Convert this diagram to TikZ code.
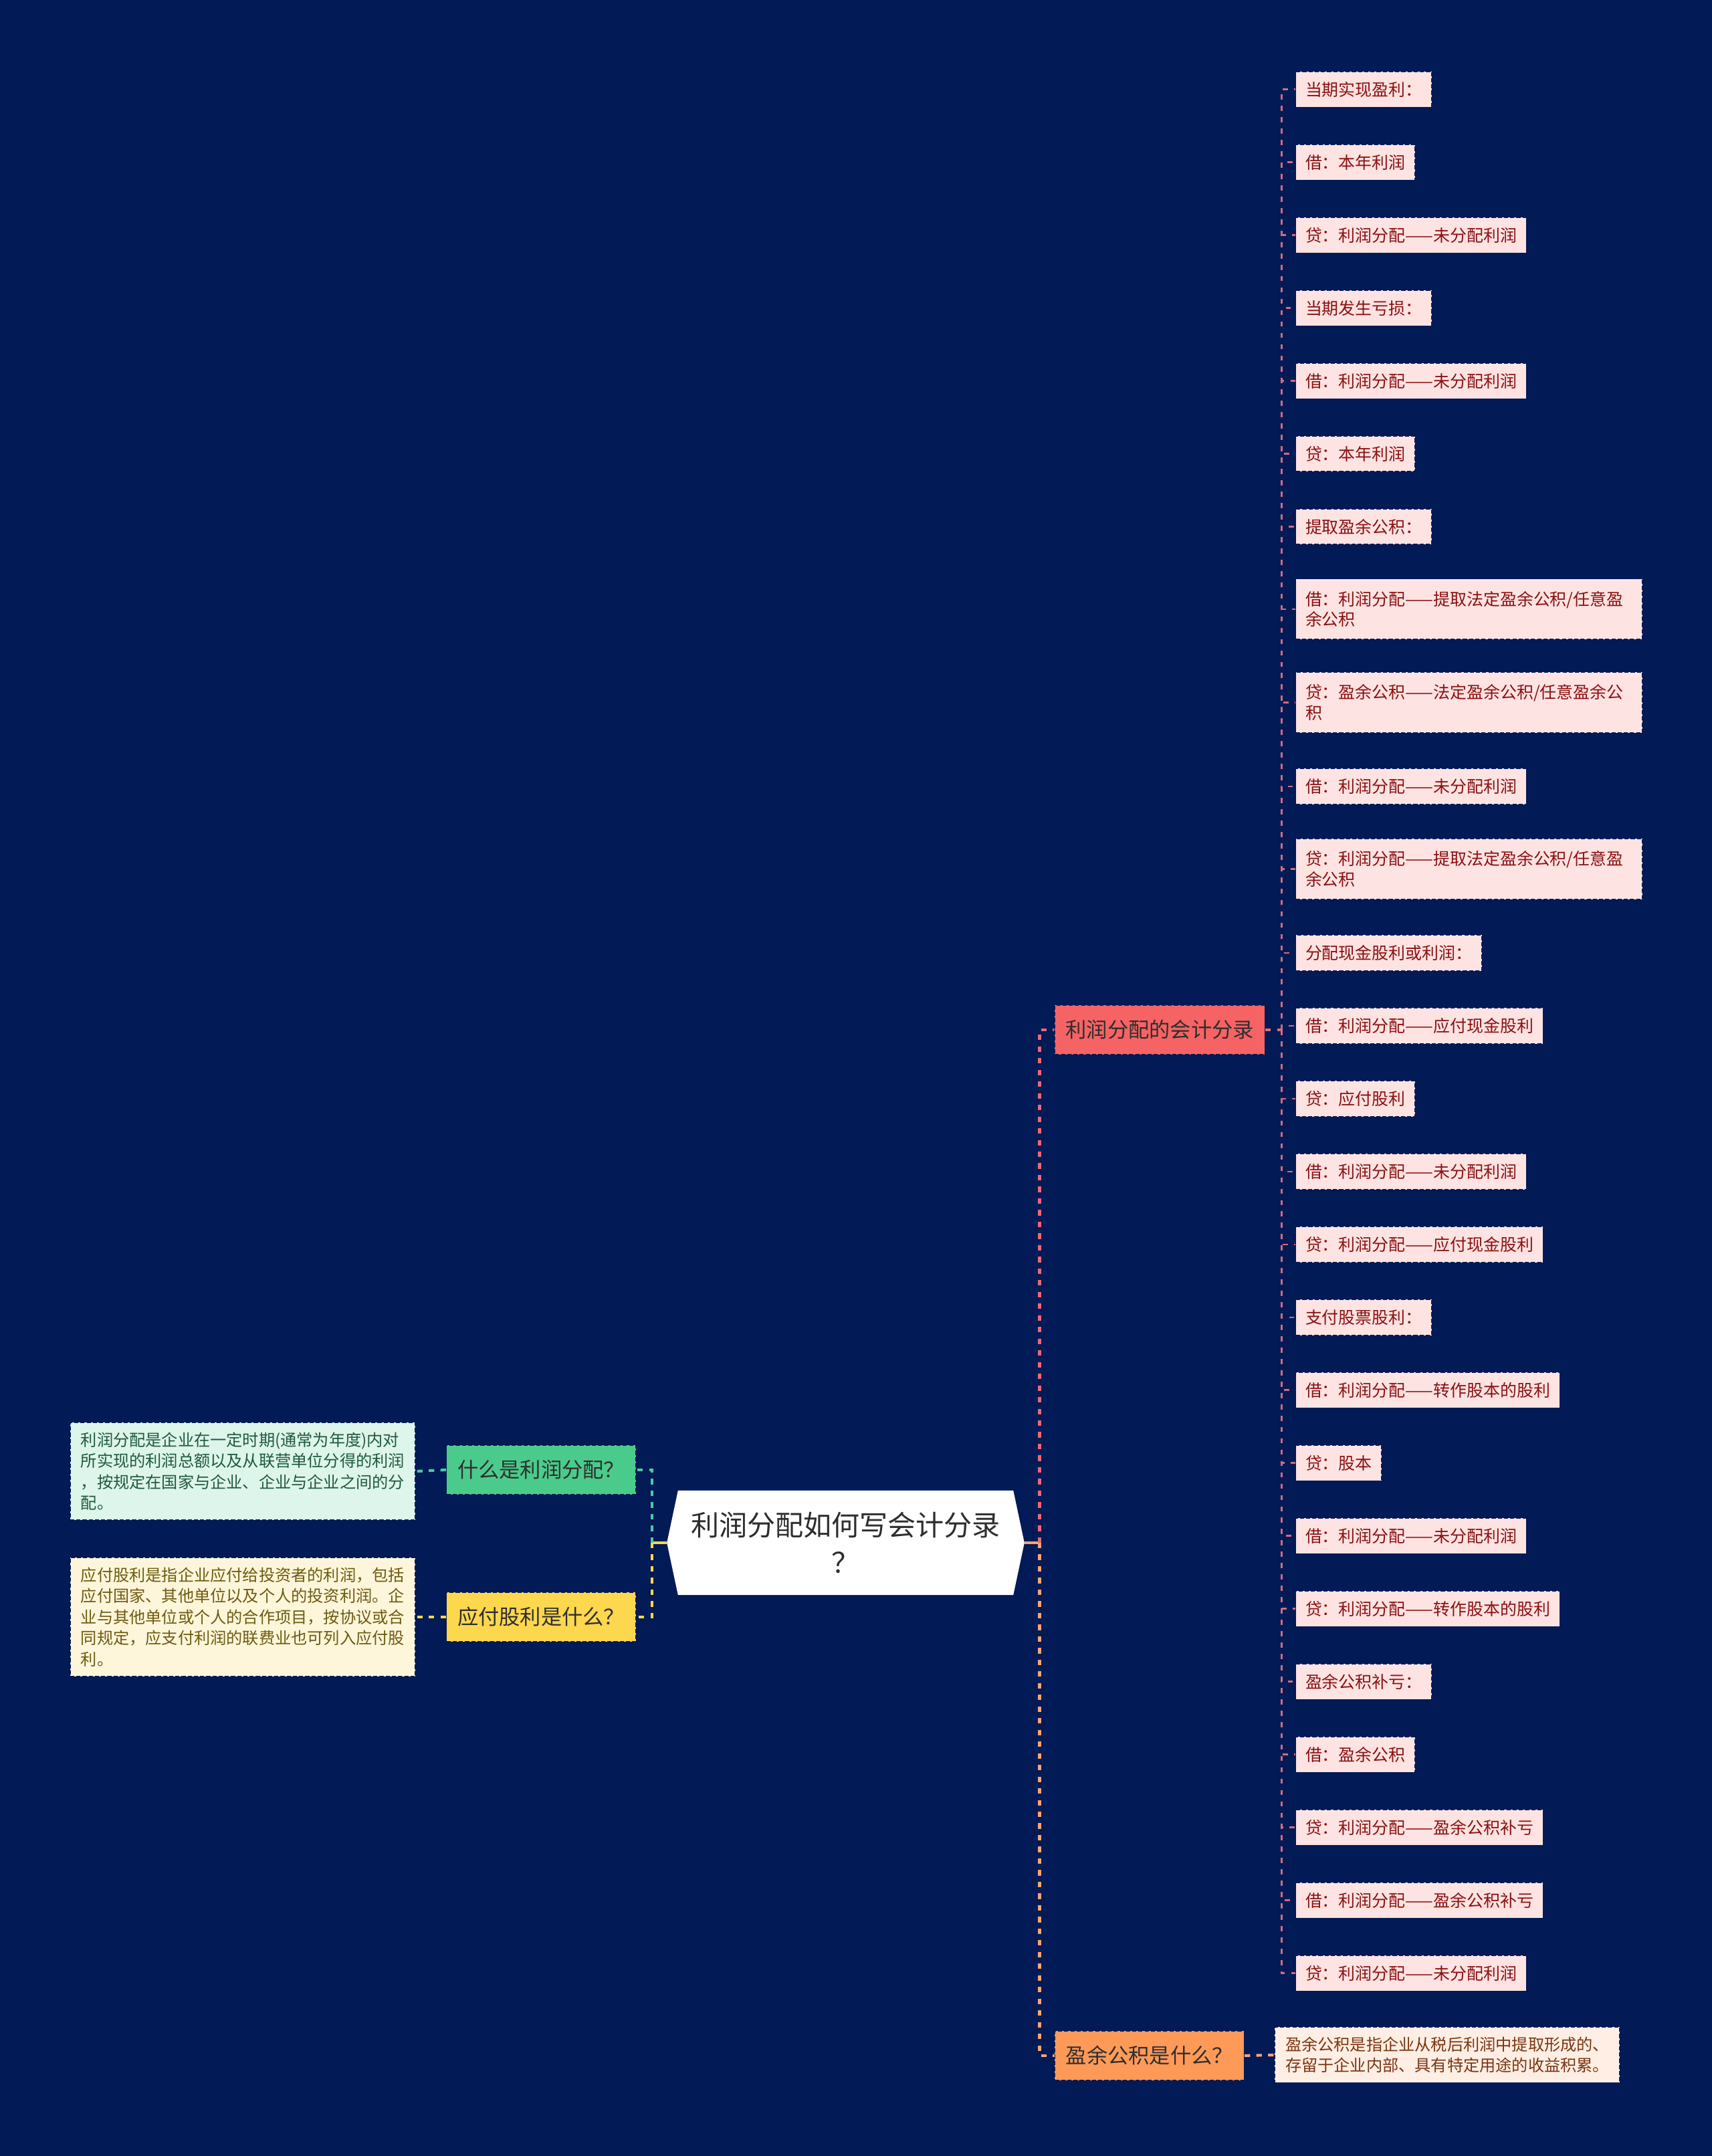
\documentclass[tikz,border=0pt]{standalone}
\usepackage{fontspec}
\setmainfont{Noto Sans CJK SC}
\usetikzlibrary{shapes.symbols}

\definecolor{navybg}{HTML}{021A55}
\definecolor{leaffill}{HTML}{FDE3E2}
\definecolor{leaftext}{HTML}{8A1010}
\definecolor{acctred}{HTML}{F66364}
\definecolor{redline}{HTML}{E8697A}
\definecolor{leafline}{HTML}{D66A7C}
\definecolor{qgreen}{HTML}{4ACB8C}
\definecolor{dgreen}{HTML}{DDF5EA}
\definecolor{tgreen}{HTML}{1F5A3C}
\definecolor{greenline}{HTML}{4CC8A8}
\definecolor{qyellow}{HTML}{FDD74E}
\definecolor{dyellow}{HTML}{FEF6DA}
\definecolor{tyellow}{HTML}{6E5A10}
\definecolor{qorange}{HTML}{FE9A58}
\definecolor{dorange}{HTML}{FEEEE4}
\definecolor{torange}{HTML}{7B3510}
\definecolor{orangeline}{HTML}{F5A673}
\definecolor{darktext}{HTML}{2E2E2E}

\newcommand\leafsize{\fontsize{13.8pt}{17pt}\selectfont}
\newcommand\notesize{\fontsize{13.4pt}{17.5pt}\selectfont}
\newcommand\topicsize{\fontsize{17.3pt}{21pt}\selectfont}
\newcommand\rootsize{\fontsize{23.3pt}{30.7pt}\selectfont}

\begin{document}
\begin{tikzpicture}[x=0.4mm,y=-0.4mm,font=\leafsize]
    \tikzset{
      boxline/.style={draw=navybg, dash pattern=on 1.2mm off 0.6mm, line width=0.3mm},
      leaf/.style={boxline, fill=leaffill, text=leaftext, anchor=west, align=left,
        inner xsep=2.8mm, inner ysep=0.8mm, minimum height=10.4mm},
      leaftwo/.style={leaf, minimum height=17.6mm, text width=95.2mm},
      topic/.style={boxline, font=\topicsize, text=darktext, inner xsep=3.2mm,
        inner ysep=0.5mm, minimum height=14.4mm},
      note/.style={boxline, font=\notesize, align=left, inner xsep=2.6mm,
        inner ysep=2.8mm, minimum width=100.4mm},
      root/.style={signal, signal to=west and east, signal pointer angle=156,
        fill=white, text=darktext, font=\rootsize, align=center,
        minimum width=104mm, minimum height=30.4mm, inner sep=0pt},
      stubline/.style={line width=0.8mm},
      linkline/.style={line width=0.8mm, dash pattern=on 1.6mm off 1.8mm},
      leaflink/.style={leafline, line width=0.5mm, dash pattern=on 1.5mm off 1.8mm}
    }
    % Background
    \fill[navybg] (0,0) rectangle (1245,1568);

    % Centre
    \node[root] (root) at (615,1122) {利润分配如何写会计分录\\？};

    % Left side
    \node[topic, fill=qgreen] (whatq) at (393.5,1069) {什么是利润分配？};
    \node[topic, fill=qyellow] (divq) at (393.5,1176) {应付股利是什么？};
    \node[note, fill=dgreen, text=tgreen] (whatd) at (176.5,1070)
      {利润分配是企业在一定时期(通常为年度)内对\\所实现的利润总额以及从联营单位分得的利润\\，按规定在国家与企业、企业与企业之间的分\\配。};
    \node[note, fill=dyellow, text=tyellow] (divd) at (176.5,1176)
      {应付股利是指企业应付给投资者的利润，包括\\应付国家、其他单位以及个人的投资利润。企\\业与其他单位或个人的合作项目，按协议或合\\同规定，应支付利润的联费业也可列入应付股\\利。};

    % Right side
    \node[topic, fill=acctred] (acct) at (843.5,749) {利润分配的会计分录};
    \node[topic, fill=qorange] (surplusq) at (836,1495) {盈余公积是什么？};
    \node[note, fill=dorange, text=torange] (surplusd) at (1052.5,1494.5)
      {盈余公积是指企业从税后利润中提取形成的、\\存留于企业内部、具有特定用途的收益积累。};

    % Entries
    \node[leaf] (l1)  at (942,65)   {当期实现盈利：};
    \node[leaf] (l2)  at (942,118)  {借：本年利润};
    \node[leaf] (l3)  at (942,171)  {贷：利润分配——未分配利润};
    \node[leaf] (l4)  at (942,224)  {当期发生亏损：};
    \node[leaf] (l5)  at (942,277)  {借：利润分配——未分配利润};
    \node[leaf] (l6)  at (942,330)  {贷：本年利润};
    \node[leaf] (l7)  at (942,383)  {提取盈余公积：};
    \node[leaftwo] (l8)  at (942,443)  {借：利润分配——提取法定盈余公积/任意盈\\余公积};
    \node[leaftwo] (l9)  at (942,511)  {贷：盈余公积——法定盈余公积/任意盈余公\\积};
    \node[leaf] (l10) at (942,572)  {借：利润分配——未分配利润};
    \node[leaftwo] (l11) at (942,632)  {贷：利润分配——提取法定盈余公积/任意盈\\余公积};
    \node[leaf] (l12) at (942,693)  {分配现金股利或利润：};
    \node[leaf] (l13) at (942,746)  {借：利润分配——应付现金股利};
    \node[leaf] (l14) at (942,799)  {贷：应付股利};
    \node[leaf] (l15) at (942,852)  {借：利润分配——未分配利润};
    \node[leaf] (l16) at (942,905)  {贷：利润分配——应付现金股利};
    \node[leaf] (l17) at (942,958)  {支付股票股利：};
    \node[leaf] (l18) at (942,1011) {借：利润分配——转作股本的股利};
    \node[leaf] (l19) at (942,1064) {贷：股本};
    \node[leaf] (l20) at (942,1117) {借：利润分配——未分配利润};
    \node[leaf] (l21) at (942,1170) {贷：利润分配——转作股本的股利};
    \node[leaf] (l22) at (942,1223) {盈余公积补亏：};
    \node[leaf] (l23) at (942,1276) {借：盈余公积};
    \node[leaf] (l24) at (942,1329) {贷：利润分配——盈余公积补亏};
    \node[leaf] (l25) at (942,1382) {借：利润分配——盈余公积补亏};
    \node[leaf] (l26) at (942,1435) {贷：利润分配——未分配利润};

    % Connectors
    \coordinate (rootR) at (756,1122);
    \coordinate (rootL) at (474,1122);
    \coordinate (acctR) at (932,749);
    \draw[stubline, orangeline] (root.east) -- (rootR);
    \draw[linkline, redline]    (rootR) |- (acct.west);
    \draw[linkline, orangeline] (rootR) |- (surplusq.west);
    \draw[stubline, qyellow]    (root.west) -- (rootL);
    \draw[linkline, greenline]  (rootL) |- (whatq.east);
    \draw[linkline, qyellow]    (rootL) |- (divq.east);
    \draw[linkline, greenline]  (whatq.west) -- (whatd.east);
    \draw[linkline, qyellow]    (divq.west) -- (divd.east);
    \draw[linkline, orangeline] (surplusq.east) -- (surplusd.west);
    \draw[linkline, redline]    (acct.east) -- (acctR);
    \foreach \i in {1,...,26}
      \draw[leaflink] (acctR) |- (l\i.west);
\end{tikzpicture}
\end{document}
